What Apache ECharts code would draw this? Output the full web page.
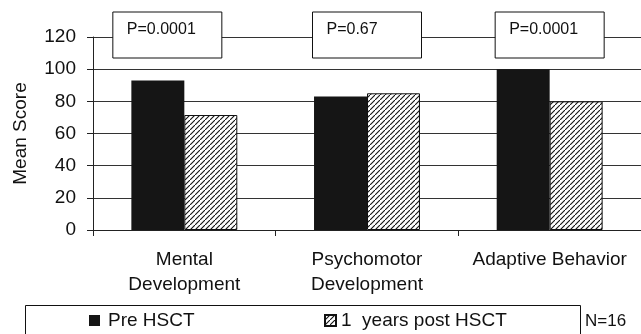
<!DOCTYPE html>
<html><head><meta charset="utf-8">
<script src="https://cdn.jsdelivr.net/npm/echarts@6/dist/echarts.min.js"></script>
<style>html,body{margin:0;padding:0;background:#fff}#c{width:641px;height:334px}</style>
</head><body><div id="c"></div>
<script>
const categories = ['Mental\nDevelopment', 'Psychomotor\nDevelopment', 'Adaptive Behavior'];
const preHSCT = [93, 83, 100];
const postHSCT = [71.5, 85, 80];
const pValues = ['P=0.0001', 'P=0.67', 'P=0.0001'];
const seriesNames = ['Pre HSCT', '1  years post HSCT'];
const yTicks = { min: 0, max: 120, interval: 20 };
const noteText = 'N=16';

const FONT = 'Liberation Sans, Arial, Helvetica, sans-serif';
function makeHatch() {
  const c = document.createElement('canvas');
  c.width = 5; c.height = 5;
  const g = c.getContext('2d');
  g.fillStyle = '#fff'; g.fillRect(0, 0, 5, 5);
  g.strokeStyle = '#111'; g.lineWidth = 1.1;
  g.beginPath(); g.moveTo(-1, 6); g.lineTo(6, -1); g.stroke();
  return c;
}
const hatch = { image: makeHatch(), repeat: 'repeat' };

const chart = echarts.init(document.getElementById('c'), null, { renderer: 'canvas' });
const option = {
  animation: false,
  backgroundColor: '#fff',
  textStyle: { fontFamily: FONT, color: '#111' },
  grid: { left: 93, right: -4, top: 37, height: 193, containLabel: false },
  xAxis: {
    type: 'category', data: categories,
    axisLine: { lineStyle: { color: '#222', width: 1 } },
    axisTick: { show: true, length: 6, lineStyle: { color: '#222' } },
    axisLabel: { fontSize: 19, lineHeight: 25, color: '#111', margin: 17, fontFamily: FONT, interval: 0 }
  },
  yAxis: {
    type: 'value', min: yTicks.min, max: yTicks.max, interval: yTicks.interval,
    name: 'Mean Score', nameLocation: 'middle', nameGap: 63, nameRotate: 90,
    nameTextStyle: { fontSize: 19, color: '#111', fontFamily: FONT },
    axisLine: { show: true, lineStyle: { color: '#222', width: 1 } },
    axisTick: { show: true, length: 6, lineStyle: { color: '#222' } },
    axisLabel: { fontSize: 19, color: '#111', margin: 17, fontFamily: FONT },
    splitLine: { show: true, lineStyle: { color: '#333', width: 1 } }
  },
  legend: [
    { data: [seriesNames[0]], left: 89, top: 311, itemWidth: 11, itemHeight: 11, itemGap: 0,
      icon: 'rect', textStyle: { fontSize: 19, color: '#111', fontFamily: FONT, padding: [0, 0, 0, 3] }, padding: 0 },
    { data: [seriesNames[1]], left: 324, top: 311, itemWidth: 11, itemHeight: 11, itemGap: 0,
      icon: 'rect', textStyle: { fontSize: 19, color: '#111', fontFamily: FONT }, padding: 0 }
  ],
  series: [
    { name: seriesNames[0], type: 'bar', data: preHSCT, barGap: '0%', barCategoryGap: '42%',
      itemStyle: { color: '#151515', borderColor: '#111', borderWidth: 0 } },
    { name: seriesNames[1], type: 'bar', data: postHSCT, barGap: '0%', barCategoryGap: '42%',
      itemStyle: { color: hatch, borderColor: '#111', borderWidth: 1 } }
  ]
};
chart.setOption(option);

const boxOffsets = [-17, 0, 0];
const graphics = [];
pValues.forEach((p, i) => {
  const cx = chart.convertToPixel({ xAxisIndex: 0 }, i) + boxOffsets[i];
  graphics.push({
    type: 'group', x: cx - 54.5, y: 12, z: 100,
    children: [
      { type: 'rect', shape: { x: 0, y: 0, width: 109, height: 46 },
        style: { fill: '#fff', stroke: '#111', lineWidth: 1 } },
      { type: 'text', x: 14, y: 18,
        style: { text: p, font: '16px ' + FONT, fill: '#111', verticalAlign: 'middle', align: 'left' } }
    ]
  });
});
graphics.push({ type: 'rect', z: 0, shape: { x: 25.5, y: 305.5, width: 555, height: 40 },
  style: { fill: 'none', stroke: '#111', lineWidth: 1 } });
graphics.push({ type: 'text', x: 585, y: 321,
  style: { text: noteText, font: '17px ' + FONT, fill: '#111', verticalAlign: 'middle' } });
chart.setOption({ graphic: graphics });
</script></body></html>
